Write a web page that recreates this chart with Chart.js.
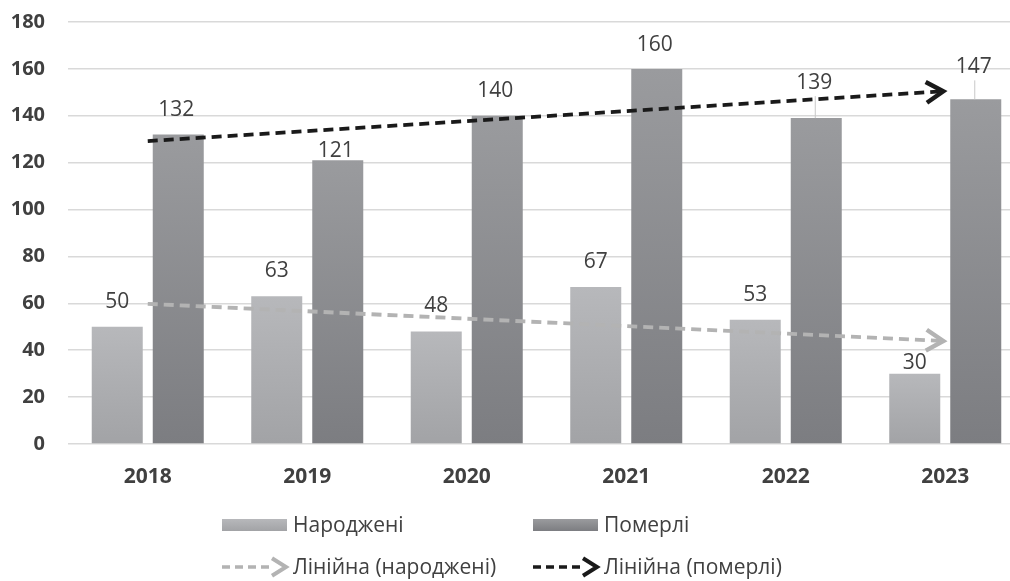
<!DOCTYPE html>
<html>
<head>
<meta charset="utf-8">
<script src="https://cdn.jsdelivr.net/npm/chart.js@4/dist/chart.umd.min.js"></script>
<style>
  html, body { margin: 0; padding: 0; background: #fff; overflow: hidden; }
  #wrap { width: 1010px; height: 581px; overflow: hidden; }
</style>
</head>
<body>
<div id="wrap"><canvas id="chart" width="1025" height="581"></canvas></div>
<script>
const years = ['2018', '2019', '2020', '2021', '2022', '2023']
const born = [50, 63, 48, 67, 53, 30]
const died = [132, 121, 140, 160, 139, 147]
// trend lines: start and end of each arrow
const bornTrend = [59.8, null, null, null, null, 43.9]
const diedTrend = [129.2, null, null, null, null, 150.5]
const yTicks = [0, 20, 40, 60, 80, 100, 120, 140, 160, 180]

// how far each value label sits above its bar (px), some were moved by hand
const bornLift = [25, 25, 25, 25, 25, 11]
const diedLift = [25, 9, 25, 24, 35, 32]
const diedLeader = [false, false, false, false, true, true]

const FONT = '"Open Sans", "Liberation Sans", sans-serif'
const TEXT = '#404040'

function barGradient(top, bottom) {
  return (ctx) => {
    const chart = ctx.chart
    if (!chart.chartArea || ctx.raw == null) return bottom
    const y = chart.scales.y
    const g = chart.ctx.createLinearGradient(0, y.getPixelForValue(ctx.raw), 0, y.getPixelForValue(0))
    g.addColorStop(0, top)
    g.addColorStop(1, bottom)
    return g
  }
}

function drawArrow(c, x, y, angle, color, size, width) {
  c.save()
  c.translate(x, y)
  c.rotate(angle)
  c.strokeStyle = color
  c.lineWidth = width
  c.setLineDash([])
  c.lineCap = 'butt'
  c.lineJoin = 'miter'
  c.beginPath()
  c.moveTo(-size, -size * 0.55)
  c.lineTo(-2, 0)
  c.lineTo(-size, size * 0.55)
  c.stroke()
  c.restore()
}

const extras = {
  id: 'extras',
  afterDatasetsDraw(chart) {
    const c = chart.ctx
    // arrow heads on trend lines
    ;[2, 3].forEach((i) => {
      const pts = chart.getDatasetMeta(i).data.filter((p) => !p.skip)
      const a = pts[0], b = pts[pts.length - 1]
      const ang = Math.atan2(b.y - a.y, b.x - a.x)
      drawArrow(c, b.x, b.y, ang, chart.data.datasets[i].borderColor, 19, 4.5)
    })
    // value labels
    c.save()
    c.font = '21px ' + FONT
    c.fillStyle = TEXT
    c.textAlign = 'center'
    c.textBaseline = 'middle'
    chart.getDatasetMeta(0).data.forEach((bar, j) => {
      c.fillText(born[j], bar.x, bar.y - bornLift[j])
    })
    chart.getDatasetMeta(1).data.forEach((bar, j) => {
      const ly = bar.y - diedLift[j]
      if (diedLeader[j]) {
        c.strokeStyle = '#c8c8c8'
        c.lineWidth = 1
        c.beginPath()
        c.moveTo(bar.x - 1, ly + 13)
        c.lineTo(bar.x - 1, bar.y)
        c.stroke()
      }
      c.fillText(died[j], bar.x - 2, ly)
    })
    c.restore()
  },
  afterDraw(chart) {
    // legend: two rows at the bottom
    const c = chart.ctx
    const ds = chart.data.datasets
    const cols = [222, 533]
    const rows = [525, 567]
    c.save()
    c.font = '21px ' + FONT
    c.textBaseline = 'middle'
    c.textAlign = 'left'
    ;[0, 1].forEach((i) => {
      const x = cols[i], y = rows[0]
      const g = c.createLinearGradient(0, y - 6, 0, y + 6)
      g.addColorStop(0, i === 0 ? '#b7b8bb' : '#9a9b9e')
      g.addColorStop(1, i === 0 ? '#a2a3a6' : '#7c7d81')
      c.fillStyle = g
      c.fillRect(x, y - 6, 65, 12)
      c.fillStyle = TEXT
      c.fillText(ds[i].label, x + 71, y + 1)
    })
    ;[2, 3].forEach((i, k) => {
      const x = cols[k], y = rows[1]
      const col = ds[i].borderColor
      c.strokeStyle = col
      c.lineWidth = 3.5
      c.setLineDash([8, 5])
      c.beginPath()
      c.moveTo(x, y)
      c.lineTo(x + 52, y)
      c.stroke()
      drawArrow(c, x + 66, y, 0, col, 16, 4)
      c.fillStyle = TEXT
      c.fillText(ds[i].label, x + 71, y + 1)
    })
    c.restore()
  }
}

new Chart(document.getElementById('chart'), {
  type: 'bar',
  data: {
    labels: years,
    datasets: [
      {
        label: 'Народжені',
        data: born,
        backgroundColor: barGradient('#b7b8bb', '#a2a3a6'),
        categoryPercentage: 0.765,
        barPercentage: 0.836,
        order: 1,
      },
      {
        label: 'Померлі',
        data: died,
        backgroundColor: barGradient('#9a9b9e', '#7c7d81'),
        categoryPercentage: 0.765,
        barPercentage: 0.836,
        order: 1,
      },
      {
        type: 'line',
        label: 'Лінійна (народжені)',
        data: bornTrend,
        spanGaps: true,
        borderColor: '#b3b3b3',
        borderWidth: 3.8,
        borderDash: [10, 6],
        pointRadius: 0,
        fill: false,
        order: -1,
      },
      {
        type: 'line',
        label: 'Лінійна (померлі)',
        data: diedTrend,
        spanGaps: true,
        borderColor: '#1a1a1a',
        borderWidth: 3.8,
        borderDash: [10, 6],
        pointRadius: 0,
        fill: false,
        order: -1,
      },
    ],
  },
  options: {
    responsive: false,
    animation: false,
    devicePixelRatio: 1,
    layout: { padding: { top: 22, right: 0, bottom: 0, left: 0 } },
    plugins: {
      legend: { display: false },
      tooltip: { enabled: false },
    },
    scales: {
      x: {
        grid: { display: false, drawTicks: false },
        border: { display: false },
        ticks: {
          color: TEXT,
          padding: 20,
          font: { family: FONT, size: 21, weight: 'bold' },
        },
        afterFit: (s) => { s.height = 137 },
      },
      y: {
        min: 0,
        max: 180,
        afterBuildTicks: (s) => { s.ticks = yTicks.map((v) => ({ value: v })) },
        grid: { color: '#d9d9d9', lineWidth: 1.5, drawTicks: false },
        border: { display: false },
        ticks: {
          color: TEXT,
          padding: 23,
          font: { family: FONT, size: 20, weight: 'bold' },
        },
        afterFit: (s) => {
          s.width = 68
          s.paddingTop = 0
          s.paddingBottom = 0
        },
      },
    },
  },
  plugins: [extras],
})
</script>
</body>
</html>
